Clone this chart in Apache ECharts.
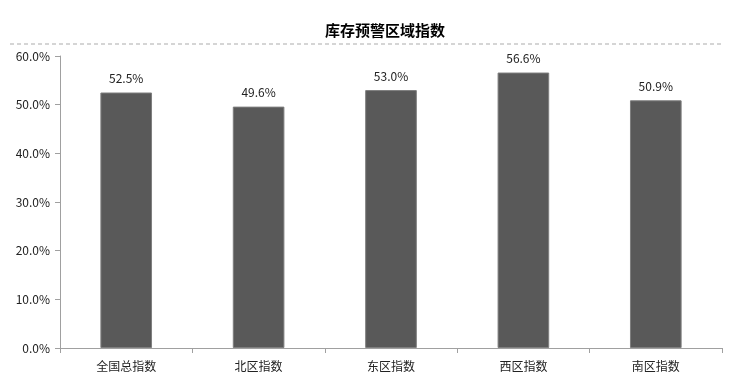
<!DOCTYPE html>
<html><head><meta charset="utf-8">
<script src="https://cdn.jsdelivr.net/npm/echarts@6/dist/echarts.min.js"></script>
<style>html,body{margin:0;padding:0;background:#fff}#c{width:730px;height:391px}</style>
</head><body><div id="c"></div>
<script>
const categories = ['全国总指数', '北区指数', '东区指数', '西区指数', '南区指数'];
const values = [52.5, 49.6, 53.0, 56.6, 50.9];
const yTicks = [0, 10, 20, 30, 40, 50, 60];

const chart = echarts.init(document.getElementById('c'));
chart.setOption({
  animation: false,
  textStyle: { fontFamily: '"Noto Sans CJK SC", "Open Sans", sans-serif' },
  title: {
    text: '库存预警区域指数', left: 380, top: 18, textAlign: 'center',
    textStyle: { fontSize: 15, fontWeight: 'bold', color: '#000' }
  },
  graphic: [{
    type: 'line', shape: { x1: 10, y1: 44, x2: 722, y2: 44 },
    style: { stroke: '#c8c8c8', lineWidth: 1.5, lineDash: [4, 3] }
  }],
  grid: { left: 60, right: 8, top: 56, bottom: 43 },
  xAxis: {
    type: 'category', data: categories,
    axisLine: { lineStyle: { color: '#a0a0a0' } },
    axisTick: { show: true, alignWithLabel: false, length: 5, lineStyle: { color: '#a0a0a0' } },
    axisLabel: { color: '#222', fontSize: 12, margin: 12 }
  },
  yAxis: {
    type: 'value', min: yTicks[0], max: yTicks[yTicks.length - 1], interval: 10,
    axisLine: { show: true, lineStyle: { color: '#a0a0a0' } },
    axisTick: { show: true, length: 5, lineStyle: { color: '#a0a0a0' } },
    splitLine: { show: false },
    axisLabel: { color: '#222', fontSize: 12, margin: 10, formatter: v => v.toFixed(1) + '%' }
  },
  series: [{
    type: 'bar', data: values, barWidth: '39%',
    itemStyle: { color: '#595959', borderColor: '#7f7f7f', borderWidth: 1 },
    label: { show: true, position: 'top', distance: 8, color: '#222', fontSize: 12,
      formatter: p => p.value.toFixed(1) + '%' }
  }]
});
</script></body></html>
